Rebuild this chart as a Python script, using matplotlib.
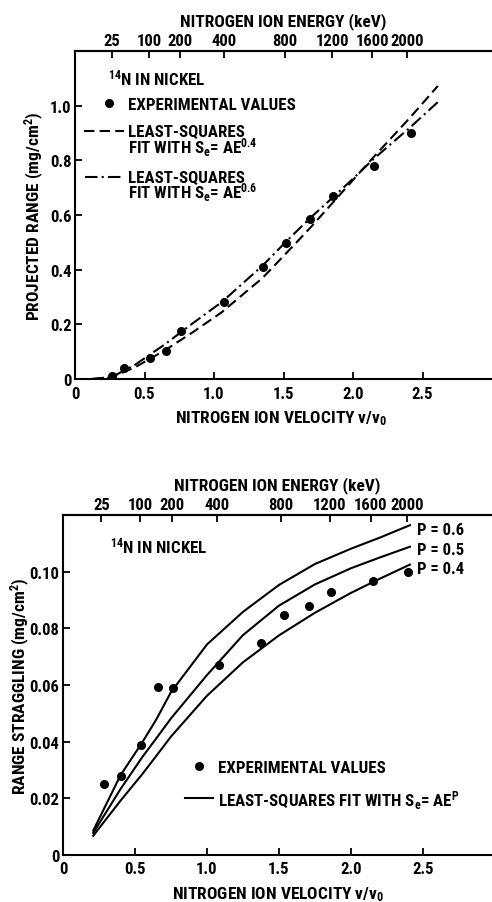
import numpy as np
import matplotlib
matplotlib.use("Agg")
import matplotlib.pyplot as plt
from matplotlib.lines import Line2D
from matplotlib import font_manager as fm

# ---------------- data ----------------
energy_ticks = [25, 100, 200, 400, 800, 1200, 1600, 2000]
energy_labels = ["25", "100", "200", "400", "800", "1200", "1600", "2000"]
vel_ticks = [0, 0.5, 1.0, 1.5, 2.0, 2.5]
vel_labels = ["0", "0.5", "1.0", "1.5", "2.0", "2.5"]

# top panel: projected range
range_exp_v = [0.264, 0.355, 0.54, 0.655, 0.763, 1.072, 1.35, 1.518, 1.69, 1.858, 2.15, 2.415]
range_exp = [0.010, 0.039, 0.077, 0.104, 0.177, 0.283, 0.409, 0.497, 0.586, 0.669, 0.781, 0.901]
fit_v = [0.12, 0.264, 0.432, 0.65, 0.85, 1.055, 1.35, 1.523, 1.69, 1.863, 2.0, 2.15, 2.41, 2.61]
fit_p04 = [0.0, 0.006, 0.043, 0.106, 0.172, 0.244, 0.370, 0.462, 0.552, 0.650, 0.728, 0.813, 0.956, 1.072]
fit_p06 = [0.0, 0.007, 0.052, 0.128, 0.205, 0.281, 0.415, 0.505, 0.588, 0.668, 0.733, 0.806, 0.920, 1.013]
range_yticks = [0, 0.2, 0.4, 0.6, 0.8, 1.0]
range_ylabels = ["0", "0.2", "0.4", "0.6", "0.8", "1.0"]

# bottom panel: range straggling
strag_exp_v = [0.287, 0.403, 0.542, 0.657, 0.766, 1.083, 1.373, 1.535, 1.706, 1.859, 2.15, 2.398]
strag_exp = [0.0251, 0.0280, 0.0390, 0.0592, 0.0589, 0.0669, 0.0747, 0.0848, 0.0879, 0.0928, 0.0967, 0.0999]
strag_v = [0.21, 0.4, 0.55, 0.65, 0.75, 1.0, 1.25, 1.5, 1.75, 2.0, 2.2, 2.41]
strag_p06 = [0.0086, 0.0282, 0.0397, 0.0480, 0.0575, 0.0743, 0.0858, 0.0953, 0.1027, 0.1081, 0.1120, 0.1164]
strag_p05 = [0.0078, 0.0233, 0.0345, 0.0413, 0.0482, 0.0635, 0.0776, 0.0880, 0.0955, 0.1012, 0.1050, 0.1088]
strag_p04 = [0.0068, 0.0192, 0.0285, 0.0351, 0.0418, 0.0562, 0.0680, 0.0775, 0.0855, 0.0925, 0.0975, 0.1025]
strag_yticks = [0, 0.02, 0.04, 0.06, 0.08, 0.10]
strag_ylabels = ["0", "0.02", "0.04", "0.06", "0.08", "0.10"]

# ---------------- style ----------------
available = {f.name for f in fm.fontManager.ttflist}
candidates = ["Roboto Condensed", "Archivo Narrow", "PT Sans Narrow", "Liberation Sans Narrow",
              "Open Sans Condensed", "Barlow Condensed", "Encode Sans Condensed",
              "IBM Plex Sans Condensed", "Fira Sans Condensed", "DejaVu Sans"]
FNAME = next(c for c in candidates if c in available)
WEIGHT = "heavy"
plt.rcParams["font.family"] = [FNAME, "DejaVu Sans"]
plt.rcParams["font.weight"] = WEIGHT
plt.rcParams["mathtext.fontset"] = "custom"
plt.rcParams["mathtext.rm"] = FNAME + ":" + WEIGHT
plt.rcParams["mathtext.it"] = FNAME + ":" + WEIGHT
plt.rcParams["mathtext.bf"] = FNAME + ":" + WEIGHT
plt.rcParams["axes.linewidth"] = 1.5

W, H = 492, 903
fig = plt.figure(figsize=(W / 100, H / 100), dpi=100)


def P(x, y):
    return x / W, 1 - y / H


def v2e(v):
    return 350.0 * np.asarray(v) ** 2


def e2v(e):
    return np.sqrt(np.clip(np.asarray(e, dtype=float), 0, None) / 350.0)


TICK = 12
LAB = 12.5
LEG = 12.2


def style_axes(ax, xlim, ylim, yticks, ylabels, xpad):
    ax.set_xlim(*xlim)
    ax.set_ylim(*ylim)
    ax.spines["right"].set_visible(False)
    ax.set_xticks(vel_ticks)
    ax.set_xticklabels(vel_labels, fontsize=TICK, fontweight=WEIGHT)
    ax.set_yticks(yticks)
    ax.set_yticklabels(ylabels, fontsize=TICK, fontweight=WEIGHT)
    ax.tick_params(axis="x", direction="in", length=5, width=1.3, pad=xpad, top=False)
    ax.tick_params(axis="y", direction="in", length=5, width=1.3, pad=2.5, right=False)
    sec = ax.secondary_xaxis("top", functions=(v2e, e2v))
    sec.set_xticks(energy_ticks)
    sec.set_xticklabels(energy_labels, fontsize=TICK, fontweight=WEIGHT)
    sec.tick_params(axis="x", direction="in", length=5, width=1.3, pad=2.5)
    sec.spines["top"].set_linewidth(1.5)
    return sec


# ---------------- top panel ----------------
ax1 = fig.add_axes([75 / W, 1 - 380 / H, (W - 75) / W, 328 / H])
sec1 = style_axes(ax1, (0, 3.0), (0, 1.2), range_yticks, range_ylabels, 5)
ax1.plot(fit_v, fit_p04, color="black", lw=1.5, linestyle=(0, (5, 2.5)))
ax1.plot(fit_v, fit_p06, color="black", lw=1.5, linestyle=(0, (6, 2, 1, 2)))
ax1.plot(range_exp_v, range_exp, "o", color="black", ms=5.5)
ax1.set_ylabel("PROJECTED RANGE (mg/cm$^\\mathrm{2}$)", fontsize=LAB, fontweight=WEIGHT, va="center")
ax1.yaxis.set_label_coords((34 - 75) / (W - 75), 0.5)
ax1.set_xlabel("NITROGEN ION VELOCITY v/v$_\\mathrm{0}$", fontsize=LAB, fontweight=WEIGHT, va="center")
ax1.xaxis.set_label_coords((281 - 75) / (W - 75), (380 - 419) / 328)
sec1.set_xlabel("NITROGEN ION ENERGY (keV)", fontsize=LAB, fontweight=WEIGHT, labelpad=5)

fig.text(*P(108, 85), "$\\mathrm{^{14}}$N IN NICKEL", fontsize=LEG, fontweight=WEIGHT, va="baseline")
fig.add_artist(Line2D([P(109.3, 0)[0]], [P(0, 103.5)[1]], marker="o", color="black", ms=5.5,
                      linestyle="none", transform=fig.transFigure))
fig.text(*P(128, 110), "EXPERIMENTAL VALUES", fontsize=LEG, fontweight=WEIGHT, va="baseline")
fig.add_artist(Line2D([P(84, 0)[0], P(124, 0)[0]], [P(0, 131.7)[1]] * 2, color="black", lw=1.5,
                      linestyle=(0, (5, 2.5)), transform=fig.transFigure))
fig.text(*P(128, 137.3), "LEAST-SQUARES", fontsize=LEG, fontweight=WEIGHT, va="baseline")
fig.text(*P(128, 153.3), "FIT WITH S$_\\mathrm{e}$= AE$^\\mathrm{0.4}$", fontsize=LEG,
         fontweight=WEIGHT, va="baseline")
fig.add_artist(Line2D([P(85, 0)[0], P(124, 0)[0]], [P(0, 177.7)[1]] * 2, color="black", lw=1.5,
                      linestyle=(0, (6, 2, 1, 2)), transform=fig.transFigure))
fig.text(*P(128, 182.7), "LEAST-SQUARES", fontsize=LEG, fontweight=WEIGHT, va="baseline")
fig.text(*P(128, 198.3), "FIT WITH S$_\\mathrm{e}$= AE$^\\mathrm{0.6}$", fontsize=LEG,
         fontweight=WEIGHT, va="baseline")

# ---------------- bottom panel ----------------
ax2 = fig.add_axes([63 / W, 1 - 856 / H, (W - 63) / W, 340 / H])
sec2 = style_axes(ax2, (0, 2.98), (0, 0.12), strag_yticks, strag_ylabels, 4.5)
for ys in (strag_p06, strag_p05, strag_p04):
    ax2.plot(strag_v, ys, color="black", lw=1.5)
ax2.plot(strag_exp_v, strag_exp, "o", color="black", ms=5.5)
ax2.set_ylabel("RANGE STRAGGLING (mg/cm$^\\mathrm{2}$)", fontsize=LAB, fontweight=WEIGHT, va="center")
ax2.yaxis.set_label_coords((20 - 63) / (W - 63), 0.5)
ax2.set_xlabel("NITROGEN ION VELOCITY v/v$_\\mathrm{0}$", fontsize=LAB, fontweight=WEIGHT, va="center")
ax2.xaxis.set_label_coords((278 - 63) / (W - 63), (856 - 895) / 340)
sec2.set_xlabel("NITROGEN ION ENERGY (keV)", fontsize=LAB, fontweight=WEIGHT, labelpad=5)

fig.text(*P(110, 553), "$\\mathrm{^{14}}$N IN NICKEL", fontsize=LEG, fontweight=WEIGHT, va="baseline")
for label, yb in (("P = 0.6", 535), ("P = 0.5", 555), ("P = 0.4", 574.5)):
    fig.text(*P(417, yb), label, fontsize=TICK, fontweight=WEIGHT, va="baseline")
fig.add_artist(Line2D([P(199, 0)[0]], [P(0, 767.3)[1]], marker="o", color="black", ms=5.5,
                      linestyle="none", transform=fig.transFigure))
fig.text(*P(218.5, 773.3), "EXPERIMENTAL VALUES", fontsize=LEG, fontweight=WEIGHT, va="baseline")
fig.add_artist(Line2D([P(185, 0)[0], P(212.5, 0)[0]], [P(0, 799.3)[1]] * 2, color="black", lw=1.5,
                      transform=fig.transFigure))
fig.text(*P(218.5, 806.5), "LEAST-SQUARES FIT WITH S$_\\mathrm{e}$= AE$^\\mathrm{P}$", fontsize=LEG,
         fontweight=WEIGHT, va="baseline")

fig.savefig("out.png", dpi=100, facecolor="white")
